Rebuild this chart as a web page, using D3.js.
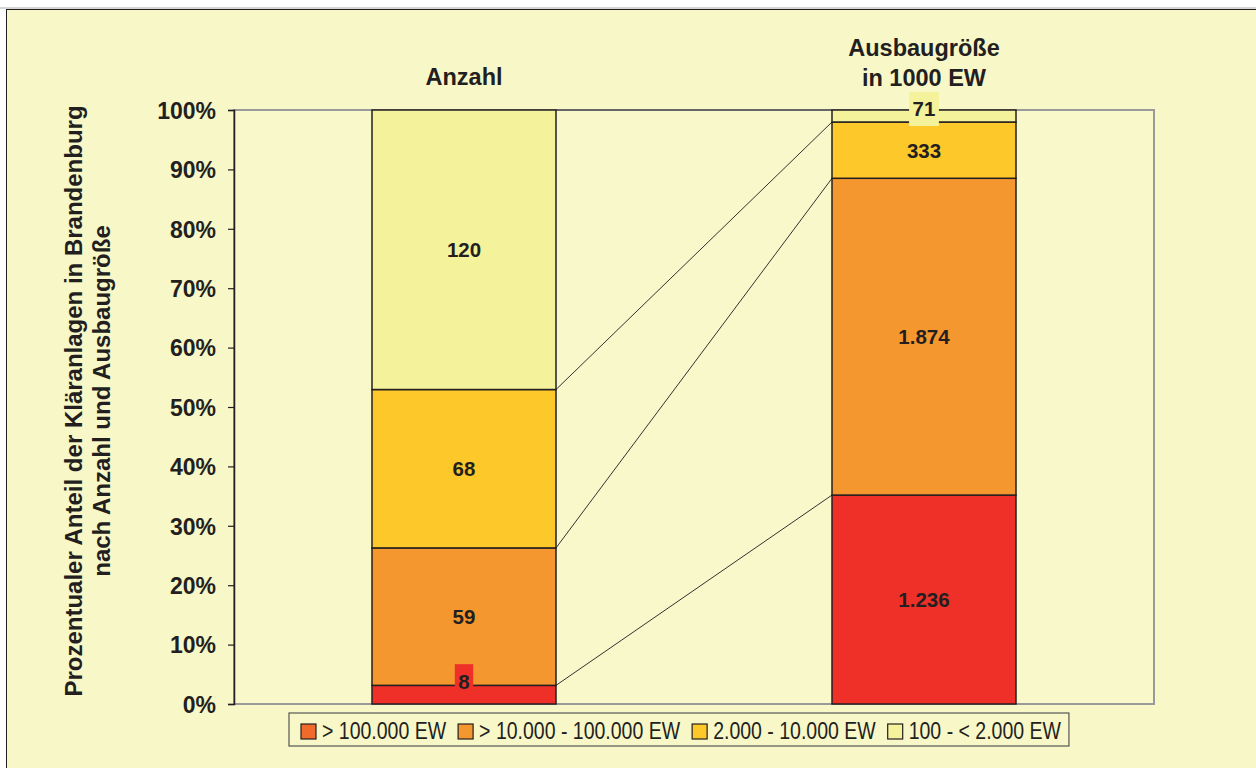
<!DOCTYPE html>
<html><head><meta charset="utf-8">
<script src="https://cdn.jsdelivr.net/npm/d3@7/dist/d3.min.js"></script>
<style>body{margin:0;background:#fff}svg{display:block}</style>
</head><body>
<svg id="c" width="1256" height="768"></svg>
<script>
const categories = ["Anzahl", "Ausbaugröße\nin 1000 EW"];
const seriesNames = ["> 100.000 EW", "> 10.000 - 100.000 EW", "2.000 - 10.000 EW", "100 - < 2.000 EW"];
const seriesLabels = [["8", "1.236"], ["59", "1.874"], ["68", "333"], ["120", "71"]];
const seriesValues = [[8, 1236], [59, 1874], [68, 333], [120, 71]];
const seriesColors = ["#EE3029", "#F5972F", "#FDC82A", "#F4F29B"];
const legendColors = ["#F06A2B", "#F5972F", "#FDC82A", "#F4F29B"];
const yTicks = [0, 10, 20, 30, 40, 50, 60, 70, 80, 90, 100];

const svg = d3.select("#c");
const bg = "#F8F7C8", ink = "#231F20";
const lf = "Liberation Sans, Arial, sans-serif";
svg.append("rect").attr("x", 6).attr("y", 9).attr("width", 1256).attr("height", 768).attr("fill", bg);
svg.append("line").attr("x1", 0).attr("x2", 1256).attr("y1", 8).attr("y2", 8).attr("stroke", "#aaa").attr("stroke-width", 1);
svg.append("line").attr("x1", 6).attr("x2", 1256).attr("y1", 9.5).attr("y2", 9.5).attr("stroke", ink).attr("stroke-width", 1);
svg.append("line").attr("x1", 6.5).attr("x2", 6.5).attr("y1", 9).attr("y2", 768).attr("stroke", ink).attr("stroke-width", 1);

const L = 234, R = 1154, T = 110, B = 704;
const x = d3.scaleBand().domain(categories).range([L, R]).paddingInner(0.6).paddingOuter(0.3);
const y = d3.scaleLinear().domain([0, 100]).range([B, T]);

// plot frame
svg.append("rect").attr("x", L).attr("y", T).attr("width", R - L).attr("height", B - T)
  .attr("fill", "#F8F8CA").attr("stroke", "#9a9a9a").attr("stroke-width", 2);

// stacked percentages
const totals = categories.map((c, i) => d3.sum(seriesValues, s => s[i]));
const stacks = categories.map((c, i) => {
  let acc = 0;
  return seriesValues.map((s, k) => {
    const y0 = acc / totals[i] * 100; acc += s[i];
    return {k, i, y0, y1: acc / totals[i] * 100};
  });
});

// connector lines
for (let k = 0; k < seriesNames.length; k++) {
  svg.append("line")
    .attr("x1", x(categories[0]) + x.bandwidth()).attr("y1", y(stacks[0][k].y1))
    .attr("x2", x(categories[1])).attr("y2", y(stacks[1][k].y1))
    .attr("stroke", "#333").attr("stroke-width", 1);
}

// bars
categories.forEach((c, i) => {
  stacks[i].forEach(d => {
    svg.append("rect").attr("x", x(c)).attr("y", y(d.y1)).attr("width", x.bandwidth())
      .attr("height", y(d.y0) - y(d.y1)).attr("fill", seriesColors[d.k])
      .attr("stroke", ink).attr("stroke-width", 1.5);
  });
});

// axis
const ax = svg.append("g").attr("transform", `translate(${L},0)`)
  .call(d3.axisLeft(y).tickValues(yTicks).tickSize(6).tickFormat(d => d + "%"));
ax.select(".domain").attr("stroke", ink).attr("stroke-width", 1.5);
ax.selectAll(".tick line").attr("stroke", ink).attr("stroke-width", 1.2);
ax.selectAll(".tick text").attr("x", -18).attr("dy", "0.36em")
  .attr("font-family", lf).attr("font-weight", "bold")
  .attr("font-size", 23).attr("fill", ink);

// data labels
categories.forEach((c, i) => {
  stacks[i].forEach(d => {
    const cx = x(c) + x.bandwidth() / 2;
    const h = y(d.y0) - y(d.y1);
    const shift = h < 25 ? (d.y1 >= 100 ? 7 : 13.5) : 0;
    const cy = (y(d.y0) + y(d.y1)) / 2 - shift;
    const txt = seriesLabels[d.k][i];
    const g = svg.append("g");
    const t = g.append("text").attr("x", cx).attr("y", cy).attr("dy", "0.36em").attr("text-anchor", "middle")
      .attr("font-family", lf).attr("font-weight", "bold").attr("font-size", 20.5).attr("fill", ink).text(txt);
    const bb = t.node().getBBox();
    g.insert("rect", "text").attr("x", bb.x - 3.5).attr("y", cy - 17).attr("width", bb.width + 7).attr("height", 34)
      .attr("fill", seriesColors[d.k]);
  });
});

// category titles
categories.forEach(c => {
  const lines = c.split("\n");
  const t = svg.append("text").attr("text-anchor", "middle").attr("font-family", lf)
    .attr("font-weight", "bold").attr("font-size", 23.5).attr("fill", ink);
  const base = lines.length === 1 ? 85 : 56;
  lines.forEach((ln, j) => t.append("tspan").attr("x", x(c) + x.bandwidth() / 2).attr("y", base + j * 30).text(ln));
});

// y title
const yt = svg.append("text").attr("text-anchor", "middle")
  .attr("font-family", lf).attr("font-weight", "bold").attr("font-size", 24).attr("fill", ink);
yt.append("tspan").attr("x", 0).attr("y", 0).text("Prozentualer Anteil der Kläranlagen in Brandenburg");
yt.append("tspan").attr("x", 0).attr("y", 28).text("nach Anzahl und Ausbaugröße");
yt.attr("transform", "translate(82,401) rotate(-90)");

// legend
const lg = svg.append("g");
const sx = 0.848;
let lx = 301;
const ly = 739;
seriesNames.forEach((n, k) => {
  lg.append("rect").attr("x", lx).attr("y", 724).attr("width", 15).attr("height", 15)
    .attr("fill", legendColors[k]).attr("stroke", ink).attr("stroke-width", 1.2);
  const tx = lx + 21;
  const t = lg.append("text").attr("transform", `translate(${tx},${ly}) scale(${sx},1)`)
    .attr("font-family", lf).attr("font-size", 23).attr("fill", ink).text(n);
  lx = tx + t.node().getComputedTextLength() * sx + 12;
});
lg.insert("rect", ":first-child").attr("x", 289).attr("y", 713).attr("width", lx - 289 - 4).attr("height", 33)
  .attr("fill", bg).attr("stroke", "#555").attr("stroke-width", 1.2);
</script>
</body></html>
